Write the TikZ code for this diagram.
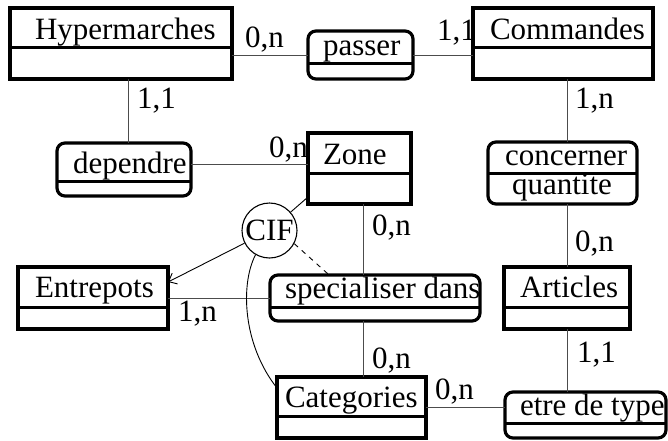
\documentclass[tikz,border=0pt]{standalone}
\usepackage{fontspec}
\setmainfont{Liberation Serif}
\usetikzlibrary{arrows.meta,calc}
\tikzset{
  ent/.style={draw, line width=3.2pt, rectangle, inner sep=0pt, outer sep=0pt},
  rel/.style={draw, line width=3.2pt, rectangle, rounded corners=8pt, inner sep=0pt, outer sep=0pt},
  divider/.style={line width=3pt},
  txt/.style={anchor=base west, inner sep=0pt, outer sep=0pt},
  card/.style={anchor=base west, inner sep=0pt, outer sep=0pt},
  conn/.style={line width=1pt, draw=black!70},
  thin/.style={line width=0.9pt, draw=black},
}
\begin{document}
\begin{tikzpicture}[x=1pt, y=-1pt, font=\fontsize{31}{36}\selectfont]
\useasboundingbox (0,0) rectangle (668,440);

% entities
\node[ent, minimum width=222pt, minimum height=71pt] (hyper) at (121,43.5) {};
\node[ent, minimum width=180pt, minimum height=71pt] (comm) at (563,43.5) {};
\node[ent, minimum width=103pt, minimum height=71pt] (zone) at (359.5,168.5) {};
\node[ent, minimum width=150pt, minimum height=62pt] (entre) at (93,298) {};
\node[ent, minimum width=126pt, minimum height=62pt] (art) at (567,298) {};
\node[ent, minimum width=149pt, minimum height=61pt] (cat) at (351.5,407.5) {};

% relations
\node[rel, minimum width=105pt, minimum height=48pt] (passer) at (360.5,55) {};
\node[rel, minimum width=134pt, minimum height=53pt] (dep) at (124,169.5) {};
\node[rel, minimum width=149pt, minimum height=62pt] (conc) at (562.5,173) {};
\node[rel, minimum width=210pt, minimum height=46pt] (spec) at (375,298) {};
\node[rel, minimum width=161pt, minimum height=46pt] (etre) at (585.5,415) {};

% dividers
\draw[divider] (hyper.west |- 0,47) -- (hyper.east |- 0,47);
\draw[divider] (comm.west |- 0,47) -- (comm.east |- 0,47);
\draw[divider] (zone.west |- 0,173) -- (zone.east |- 0,173);
\draw[divider] (entre.west |- 0,307) -- (entre.east |- 0,307);
\draw[divider] (art.west |- 0,307) -- (art.east |- 0,307);
\draw[divider] (cat.west |- 0,416) -- (cat.east |- 0,416);
\draw[divider] (passer.west |- 0,63) -- (passer.east |- 0,63);
\draw[divider] (dep.west |- 0,181) -- (dep.east |- 0,181);
\draw[divider] (conc.west |- 0,173) -- (conc.east |- 0,173);
\draw[divider] (spec.west |- 0,307) -- (spec.east |- 0,307);
\draw[divider] (etre.west |- 0,423) -- (etre.east |- 0,423);

% names
\node[txt] (thyper) at (35,39) {Hypermarches};
\node[txt] (tcomm) at (490,39) {Commandes};
\node[txt] (tpasser) at (323,55) {passer};
\node[txt] (tdep) at (73,173) {dependre};
\node[txt] (tzone) at (323,164) {Zone};
\node[txt] (tconc) at (505,165) {concerner};
\node[txt] (tquant) at (512,194) {quantite};
\node[txt] (tentre) at (35,297) {Entrepots};
\node[txt] (tspec) at (285,298) {specialiser dans};
\node[txt] (tart) at (520,297) {Articles};
\node[txt] (tcat) at (285,407) {Categories};
\node[txt] (tetre) at (520,415) {etre de type};

% connectors
\draw[conn] (hyper.east |- passer) -- (passer.west);
\draw[conn] (passer.east) -- (comm.west |- passer);
\draw[conn] (hyper.south -| 128,0) -- (dep.north -| 128,0);
\draw[conn] (dep.east |- 0,164) -- (zone.west |- 0,164);
\draw[conn] (comm.south -| 567,0) -- (conc.north -| 567,0);
\draw[conn] (conc.south -| 567,0) -- (art.north -| 567,0);
\draw[conn] (art.south) -- (etre.north -| art);
\draw[conn] (zone.south -| 363,0) -- (spec.north -| 363,0);
\draw[conn] (spec.south -| 363,0) -- (cat.north -| 363,0);
\draw[conn] (entre.east |- spec) -- (spec.west);
\draw[conn] (cat.east) -- (etre.west |- cat);

% cardinalities
\node[card] (c1) at (245,47) {0,n};
\node[card] (c2) at (437,40) {1,1};
\node[card] (c3) at (137,108) {1,1};
\node[card] (c4) at (575,108) {1,n};
\node[card] (c5) at (269,157) {0,n};
\node[card] (c6) at (372,235) {0,n};
\node[card] (c7) at (575,251) {0,n};
\node[card] (c8) at (178,321) {1,n};
\node[card] (c9) at (372,368) {0,n};
\node[card] (c10) at (577,362) {1,1};
\node[card] (c11) at (435,399) {0,n};

% CIF constraint
\node[draw, circle, line width=1.1pt, minimum size=55pt, inner sep=0pt] (cif) at (269.5,230.5) {CIF};
\coordinate (zpt) at (zone.west |- 0,197);
\coordinate (ept) at (entre.east |- 0,282);
\coordinate (spt) at (328,274);
\coordinate (cpt) at (cat.west |- 0,388);
\draw[thin] (cif) -- (zpt);
\draw[thin, -{Straight Barb[length=7pt,width=12pt,line width=0.9pt]}] (cif) -- (ept);
\draw[thin, dashed, dash pattern=on 5pt off 5pt] (cif.-28) -- (spt);
\draw[thin] (cif.240) .. controls (240,285) and (243,345) .. (cpt);
\end{tikzpicture}
\end{document}
